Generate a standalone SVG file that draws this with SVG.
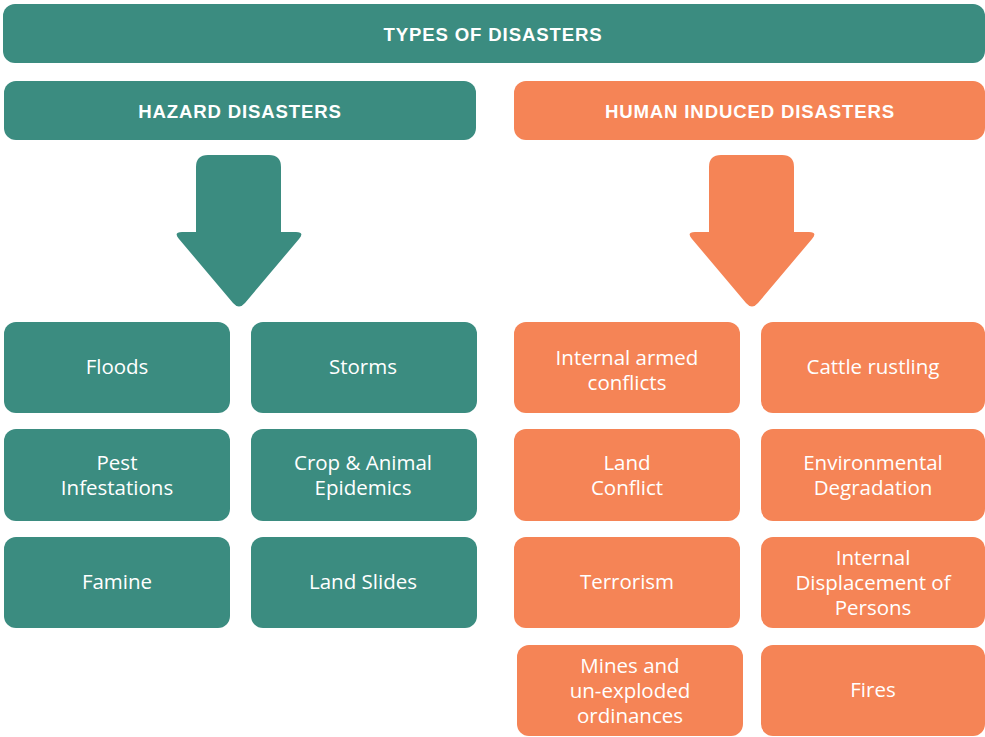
<svg xmlns="http://www.w3.org/2000/svg" width="985" height="737" viewBox="0 0 985 737">
  <style>
    .teal { fill: #3b8c80; }
    .orange { fill: #f58456; }
    .head { font-family: "Liberation Sans", "Arial", sans-serif; font-weight: 700; font-size: 18.6px; letter-spacing: 0.85px; fill: #ffffff; text-anchor: middle; }
    .item { font-family: "Open Sans", "Liberation Sans", sans-serif; font-size: 20.5px; fill: #ffffff; text-anchor: middle; }
  </style>
  <defs>
    <!-- down arrow, tip at (0,0) -->
    <path id="down-arrow" d="M -43 -142 Q -43 -154 -31 -154 L 30 -154 Q 42 -154 42 -142 L 42 -77 L 57 -77 Q 66 -77 60 -70 L 6 -6 Q 0 1 -6 -6 L -60 -70 Q -66 -77 -57 -77 L -43 -77 Z"/>
  </defs>

  <rect width="985" height="737" fill="#ffffff"/>

  <g id="types-of-disasters">
    <rect class="teal" x="3" y="4" width="982" height="59" rx="12"/>
    <text class="head" x="493" y="41">TYPES OF DISASTERS</text>
  </g>

  <g id="hazard-disasters">
    <rect class="teal" x="4" y="81" width="472" height="59" rx="12"/>
    <text class="head" x="240" y="118">HAZARD DISASTERS</text>
  </g>

  <g id="human-induced-disasters">
    <rect class="orange" x="514" y="81" width="471" height="59" rx="12"/>
    <text class="head" x="750" y="118">HUMAN INDUCED DISASTERS</text>
  </g>

  <g id="connectors">
    <use href="#down-arrow" class="teal" transform="translate(239 309)"/>
    <use href="#down-arrow" class="orange" transform="translate(752 309)"/>
  </g>

  <!-- hazard disasters -->
  <g id="floods">
    <rect class="teal" x="4" y="322" width="226" height="91" rx="12"/>
    <text class="item" x="117" y="374">Floods</text>
  </g>
  <g id="storms">
    <rect class="teal" x="251" y="322" width="226" height="91" rx="12"/>
    <text class="item" x="363" y="374">Storms</text>
  </g>
  <g id="pest-infestations">
    <rect class="teal" x="4" y="429" width="226" height="92" rx="12"/>
    <text class="item" x="117" y="470">Pest</text>
    <text class="item" x="117" y="495">Infestations</text>
  </g>
  <g id="crop-animal-epidemics">
    <rect class="teal" x="251" y="429" width="226" height="92" rx="12"/>
    <text class="item" x="363" y="470">Crop &amp; Animal</text>
    <text class="item" x="363" y="495">Epidemics</text>
  </g>
  <g id="famine">
    <rect class="teal" x="4" y="537" width="226" height="91" rx="12"/>
    <text class="item" x="117" y="589">Famine</text>
  </g>
  <g id="land-slides">
    <rect class="teal" x="251" y="537" width="226" height="91" rx="12"/>
    <text class="item" x="363" y="589">Land Slides</text>
  </g>

  <!-- human induced disasters -->
  <g id="internal-armed-conflicts">
    <rect class="orange" x="514" y="322" width="226" height="91" rx="12"/>
    <text class="item" x="627" y="365">Internal armed</text>
    <text class="item" x="627" y="390">conflicts</text>
  </g>
  <g id="cattle-rustling">
    <rect class="orange" x="761" y="322" width="224" height="91" rx="12"/>
    <text class="item" x="873" y="374">Cattle rustling</text>
  </g>
  <g id="land-conflict">
    <rect class="orange" x="514" y="429" width="226" height="92" rx="12"/>
    <text class="item" x="627" y="470">Land</text>
    <text class="item" x="627" y="495">Conflict</text>
  </g>
  <g id="environmental-degradation">
    <rect class="orange" x="761" y="429" width="224" height="92" rx="12"/>
    <text class="item" x="873" y="470">Environmental</text>
    <text class="item" x="873" y="495">Degradation</text>
  </g>
  <g id="terrorism">
    <rect class="orange" x="514" y="537" width="226" height="91" rx="12"/>
    <text class="item" x="627" y="589">Terrorism</text>
  </g>
  <g id="internal-displacement">
    <rect class="orange" x="761" y="537" width="224" height="91" rx="12"/>
    <text class="item" x="873" y="565">Internal</text>
    <text class="item" x="873" y="590">Displacement of</text>
    <text class="item" x="873" y="615">Persons</text>
  </g>
  <g id="mines-unexploded-ordinances">
    <rect class="orange" x="517" y="645" width="226" height="91" rx="12"/>
    <text class="item" x="630" y="673">Mines and</text>
    <text class="item" x="630" y="698">un-exploded</text>
    <text class="item" x="630" y="723">ordinances</text>
  </g>
  <g id="fires">
    <rect class="orange" x="761" y="645" width="224" height="91" rx="12"/>
    <text class="item" x="873" y="697">Fires</text>
  </g>
</svg>
